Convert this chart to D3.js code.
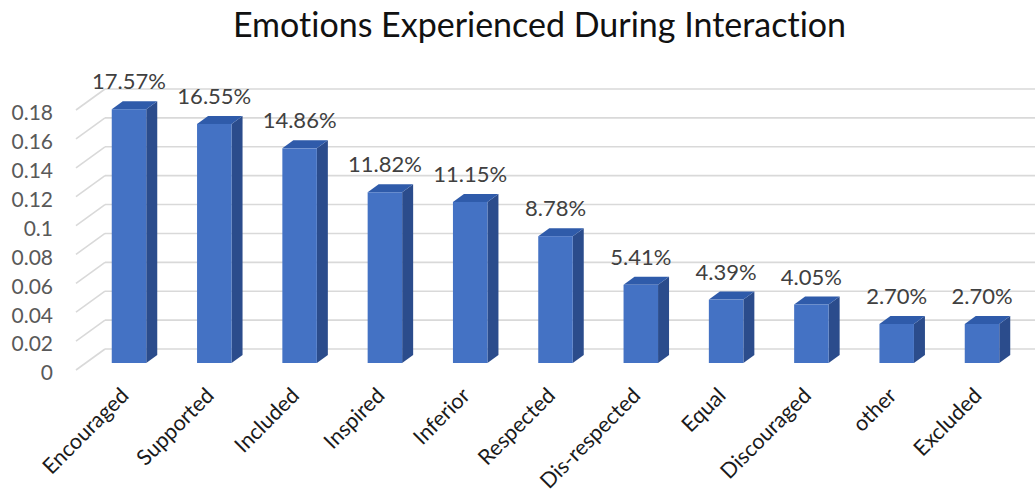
<!DOCTYPE html>
<html><head><meta charset="utf-8">
<script src="https://cdn.jsdelivr.net/npm/d3@7"></script>
<style>body{margin:0;background:#fff}svg{display:block}text{font-variant-ligatures:none;font-feature-settings:"liga" 0,"clig" 0,"dlig" 0}</style>
</head><body>
<script>
const categories = ["Encouraged","Supported","Included","Inspired","Inferior","Respected","Dis-respected","Equal","Discouraged","other","Excluded"];
const values = [0.1757,0.1655,0.1486,0.1182,0.1115,0.0878,0.0541,0.0439,0.0405,0.0270,0.0270];
const valueLabels = ["17.57%","16.55%","14.86%","11.82%","11.15%","8.78%","5.41%","4.39%","4.05%","2.70%","2.70%"];
const yTicks = [0,0.02,0.04,0.06,0.08,0.1,0.12,0.14,0.16,0.18];
const yTickLabels = ["0","0.02","0.04","0.06","0.08","0.1","0.12","0.14","0.16","0.18"];
const title = "Emotions Experienced During Interaction";

const W = 1035, H = 497;
const svg = d3.select("body").append("svg").attr("width", W).attr("height", H);
const font = "Lato, 'Open Sans', sans-serif";

const x = d3.scalePoint().domain(categories).range([129, 982]);
const y = d3.scaleLinear().domain([0, 0.18]).range([363, 103]);
const barW = 34.5, dx = 11, dy = -8;
const wallX0 = 76, wallX1 = 105, frontOff = 7, backOff = -14;

// back wall gridlines
const g = svg.append("g");
g.selectAll("line.grid").data(yTicks).join("line")
  .attr("x1", wallX1).attr("x2", W)
  .attr("y1", d => y(d) + backOff).attr("y2", d => y(d) + backOff)
  .attr("stroke", "#d9d9d9").attr("stroke-width", 1.6);
// side wall diagonals
g.selectAll("line.diag").data(yTicks).join("line")
  .attr("x1", wallX0).attr("x2", wallX1)
  .attr("y1", d => y(d) + frontOff).attr("y2", d => y(d) + backOff)
  .attr("stroke", "#d9d9d9").attr("stroke-width", 1.6);

// y labels
svg.selectAll("text.yt").data(yTicks).join("text")
  .attr("x", 53).attr("y", d => y(d) + 10)
  .attr("dy", "0.35em").attr("text-anchor", "end")
  .attr("font-family", font).attr("font-size", 21).attr("fill", "#595959")
  .text((d, i) => yTickLabels[i]);

// bars
const bars = svg.selectAll("g.bar").data(categories).join("g");
bars.each(function(c, i) {
  const gg = d3.select(this);
  const x0 = x(c) - barW / 2, x1 = x(c) + barW / 2;
  const yt = y(values[i]), yb = y(0);
  gg.append("path").attr("d", `M${x1},${yb}L${x1+dx},${yb+dy}L${x1+dx},${yt+dy}L${x1},${yt}Z`).attr("fill", "#2B4C8C");
  gg.append("path").attr("d", `M${x0},${yt}L${x0+dx},${yt+dy}L${x1+dx},${yt+dy}L${x1},${yt}Z`).attr("fill", "#2F5BAA");
  gg.append("rect").attr("x", x0).attr("y", yt).attr("width", barW).attr("height", yb - yt).attr("fill", "#4472C4");
});

// value labels
svg.selectAll("text.vl").data(categories).join("text")
  .attr("x", c => x(c)).attr("y", (c, i) => y(values[i]) - 20)
  .attr("text-anchor", "middle")
  .attr("font-family", font).attr("font-size", 22).attr("fill", "#404040")
  .text((c, i) => valueLabels[i]);

// category labels
svg.selectAll("text.cat").data(categories).join("text")
  .attr("transform", c => `translate(${x(c) + 1},${397}) rotate(-45)`)
  .attr("text-anchor", "end")
  .attr("font-family", font).attr("font-size", 21.5).attr("fill", "#1a1a1a")
  .text(c => c);

// title
svg.append("text").attr("x", 539.5).attr("y", 37)
  .attr("text-anchor", "middle")
  .attr("font-family", font).attr("font-size", 34).attr("fill", "#111")
  .text(title);
</script>
</body></html>
